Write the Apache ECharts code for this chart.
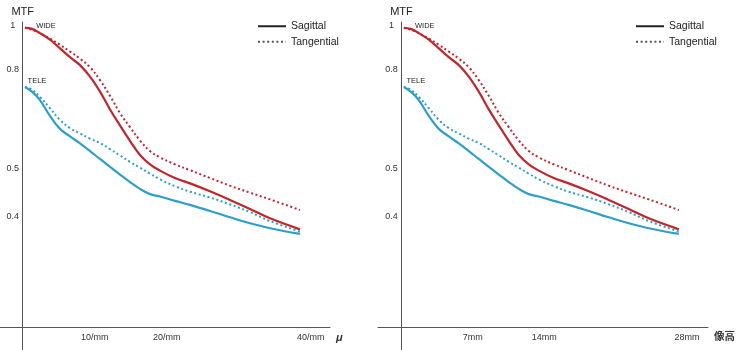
<!DOCTYPE html>
<html>
<head>
<meta charset="utf-8">
<title>MTF</title>
<script src="https://cdn.jsdelivr.net/npm/echarts@6/dist/echarts.min.js"></script>
<style>
  html, body { margin: 0; padding: 0; background: #fff; }
  #chart { width: 740px; height: 350px; }
</style>
</head>
<body>
<div id="chart"></div>
<script type="text/javascript">
// x positions of the sampled points (left panel in lp/mm, right panel in image height mm)
var xLeft  = [0.32, 1.29, 2.40, 3.79, 5.18, 6.57, 7.96, 9.35, 10.74, 12.13, 13.51, 14.90, 16.29, 17.68, 19.07, 21.15, 23.24, 26.01, 28.79, 31.57, 34.35, 38.51];
var xRight = [0.23, 0.91, 1.70, 2.68, 3.66, 4.64, 5.62, 6.60, 7.58, 8.56, 9.54, 10.52, 11.50, 12.48, 13.46, 14.93, 16.40, 18.36, 20.32, 22.28, 24.25, 27.19];

// MTF values
var wideSag = [0.973, 0.968, 0.949, 0.920, 0.883, 0.847, 0.816, 0.773, 0.720, 0.662, 0.614, 0.571, 0.534, 0.511, 0.496, 0.479, 0.467, 0.450, 0.432, 0.414, 0.396, 0.376];
var wideTan = [0.973, 0.964, 0.949, 0.925, 0.898, 0.870, 0.841, 0.808, 0.760, 0.706, 0.651, 0.609, 0.572, 0.544, 0.528, 0.511, 0.497, 0.479, 0.462, 0.447, 0.433, 0.412];
var teleSag = [0.736, 0.720, 0.692, 0.642, 0.604, 0.583, 0.564, 0.544, 0.524, 0.505, 0.487, 0.470, 0.455, 0.444, 0.439, 0.430, 0.422, 0.410, 0.398, 0.387, 0.378, 0.368];
var teleTan = [0.736, 0.727, 0.702, 0.666, 0.630, 0.606, 0.591, 0.577, 0.565, 0.549, 0.533, 0.517, 0.503, 0.489, 0.476, 0.461, 0.449, 0.437, 0.423, 0.408, 0.391, 0.372];

// tick labels
var yTicks = [1, 0.8, 0.5, 0.4];
var xTicksLeft = [10, 20, 40];
var xTicksRight = [7, 14, 28];

var FONT = "'Liberation Sans', 'Noto Sans CJK JP', sans-serif";
var RED = '#c0272d';
var BLUE = '#2f9fc8';
var AXIS = '#555';

function pairs(xs, ys) {
  var out = [];
  for (var i = 0; i < xs.length; i++) out.push([xs[i], ys[i]]);
  return out;
}

function curve(name, idx, xs, ys, color, dotted, tag) {
  var s = {
    name: name,
    type: 'line',
    xAxisIndex: idx,
    yAxisIndex: idx,
    data: pairs(xs, ys),
    smooth: 0.4,
    symbol: 'none',
    silent: true,
    lineStyle: dotted ? { color: color, width: 2, type: [2, 2.6] } : { color: color, width: 2.2 },
    itemStyle: { color: color }
  };
  if (tag) {
    s.markPoint = {
      symbol: 'circle',
      symbolSize: 0,
      silent: true,
      data: [{ coord: [xs[0], ys[0]] }],
      label: {
        show: true, position: 'inside', formatter: tag.text, offset: tag.offset,
        color: '#222', fontSize: 7.5, fontFamily: FONT
      }
    };
  }
  return s;
}

// the y axis sits inside the grid (the x axis line runs a bit further left)
function yAxisFor(idx, shift) {
  return {
    type: 'log', logBase: 10, gridIndex: idx,
    min: 0.2128, max: 1,
    offset: -shift,
    name: 'MTF', nameLocation: 'end', nameGap: 5,
    nameTextStyle: { color: '#222', fontSize: 11, fontFamily: FONT },
    axisLine: { show: true, onZero: false, lineStyle: { color: AXIS, width: 1 } },
    axisTick: { show: false },
    splitLine: { show: false },
    minorTick: { show: false },
    axisLabel: {
      customValues: yTicks, margin: 10, align: 'center',
      color: '#333', fontSize: 9, fontFamily: FONT,
      // top label sits a little below the axis end in the original
      formatter: function (v) { return v === 1 ? '{top|1}' : String(v); },
      rich: { top: { color: '#333', fontSize: 9, fontFamily: FONT, padding: [8, 0, 0, 0] } }
    }
  };
}

function xAxisFor(idx, min, max, ticks, unit, name, nameStyle) {
  return {
    type: 'value', gridIndex: idx,
    min: min, max: max,
    offset: -23,
    name: name, nameLocation: 'end', nameGap: 6,
    nameTextStyle: nameStyle,
    axisLine: { show: true, onZero: false, lineStyle: { color: AXIS, width: 1 } },
    axisTick: { show: false },
    splitLine: { show: false },
    axisLabel: {
      customValues: ticks, margin: 6,
      color: '#333', fontSize: 9, fontFamily: FONT,
      formatter: function (v) { return v + unit; }
    }
  };
}

function legendAt(left) {
  return {
    data: ['Sagittal', 'Tangential'],
    orient: 'vertical',
    left: left, top: 21,
    padding: 0,
    itemWidth: 28, itemHeight: 10, itemGap: 5,
    selectedMode: false,
    itemStyle: { opacity: 0 },
    textStyle: { color: '#222', fontSize: 10.5, fontFamily: FONT }
  };
}

var chart = echarts.init(document.getElementById('chart'), null, { renderer: 'canvas' });

chart.setOption({
  animation: false,
  backgroundColor: '#fff',
  grid: [
    { left: 0, top: 22, width: 330, bottom: 0, containLabel: false, outerBoundsMode: 'none' },
    { left: 378, top: 22, width: 330, bottom: 0, containLabel: false, outerBoundsMode: 'none' }
  ],
  xAxis: [
    xAxisFor(0, -3.15, 42.68, xTicksLeft, '/mm', 'μ',
      { color: '#333', fontSize: 11, fontWeight: 'bold', fontStyle: 'italic', fontFamily: FONT, verticalAlign: 'top', padding: [5, 0, 0, 0] }),
    xAxisFor(1, -2.30, 30.05, xTicksRight, 'mm', '像高',
      { color: '#333', fontSize: 10.5, fontWeight: 'bold', fontFamily: "'Noto Sans CJK JP', sans-serif", verticalAlign: 'top', padding: [4, 0, 0, 0] })
  ],
  yAxis: [yAxisFor(0, 22.7), yAxisFor(1, 23.5)],
  legend: [legendAt(257), legendAt(635)],
  series: [
    // legend-only entries
    { name: 'Sagittal', type: 'line', data: [], symbol: 'none',
      lineStyle: { color: '#222', width: 2.5 }, itemStyle: { color: '#222' } },
    { name: 'Tangential', type: 'line', data: [], symbol: 'none',
      lineStyle: { color: '#555', width: 2, type: [2, 2.6] }, itemStyle: { color: '#555' } },

    curve('WIDE S', 0, xLeft, wideSag, RED, false, { text: 'WIDE', offset: [21, -2] }),
    curve('WIDE T', 0, xLeft, wideTan, RED, true),
    curve('TELE S', 0, xLeft, teleSag, BLUE, false, { text: 'TELE', offset: [12, -6] }),
    curve('TELE T', 0, xLeft, teleTan, BLUE, true),

    curve('WIDE S R', 1, xRight, wideSag, RED, false, { text: 'WIDE', offset: [21, -2] }),
    curve('WIDE T R', 1, xRight, wideTan, RED, true),
    curve('TELE S R', 1, xRight, teleSag, BLUE, false, { text: 'TELE', offset: [12, -6] }),
    curve('TELE T R', 1, xRight, teleTan, BLUE, true)
  ]
});
</script>
</body>
</html>
